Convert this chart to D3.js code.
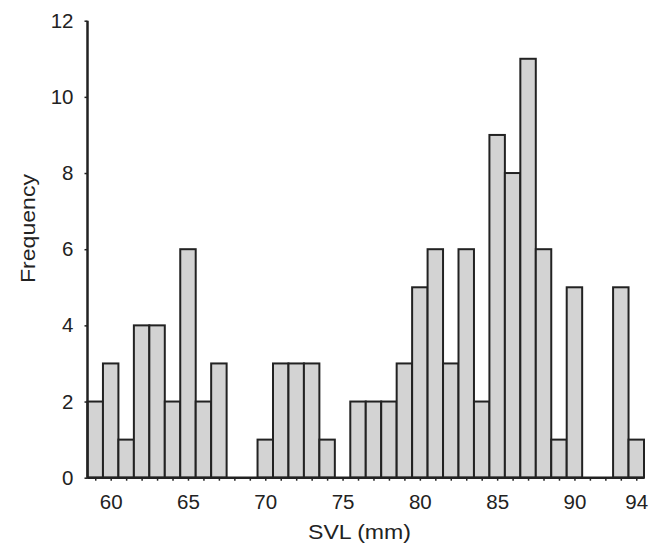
<!DOCTYPE html>
<html>
  <head>
    <meta charset="UTF-8">
    <title>SVL histogram</title>
    <script src="https://d3js.org/d3.v7.min.js"></script>
    <style>
      body { margin: 0; background: #fff; }
      text { font-family: "Liberation Sans", Arial, sans-serif; fill: #222; }
    </style>
  </head>
  <body>
    <svg width="663" height="544"></svg>
    <script>
      // SVL classes (mm), one bar per 1 mm
      var svl = [59, 60, 61, 62, 63, 64, 65, 66, 67, 68, 69, 70, 71, 72, 73, 74, 75, 76,
                 77, 78, 79, 80, 81, 82, 83, 84, 85, 86, 87, 88, 89, 90, 91, 92, 93, 94];
      var frequency = [2, 3, 1, 4, 4, 2, 6, 2, 3, 0, 0, 1, 3, 3, 3, 1, 0, 2,
                       2, 2, 3, 5, 6, 3, 6, 2, 9, 8, 11, 6, 1, 5, 0, 0, 5, 1];
      var xLabels = [60, 65, 70, 75, 80, 85, 90, 94];
      var yTicks = [0, 2, 4, 6, 8, 10, 12];

      var data = svl.map(function(d, i) { return {svl: d, n: frequency[i]}; });

      var svg = d3.select("svg");
      var margin = {top: 20.7, right: 19, bottom: 66.3, left: 87.5};
      var width = 663 - margin.left - margin.right,
          height = 544 - margin.top - margin.bottom;
      var g = svg.append("g").attr("transform", "translate(" + margin.left + "," + margin.top + ")");

      var x = d3.scaleLinear()
          .domain([d3.min(svl) - 0.5, d3.max(svl) + 0.5])
          .range([0, width]);
      var y = d3.scaleLinear()
          .domain([0, 12])
          .range([height, 0]);

      // bars
      g.selectAll("rect.bar")
        .data(data.filter(function(d) { return d.n > 0; }))
        .enter().append("rect")
          .attr("class", "bar")
          .attr("x", function(d) { return x(d.svl - 0.5); })
          .attr("width", function(d) { return x(d.svl + 0.5) - x(d.svl - 0.5); })
          .attr("y", function(d) { return y(d.n); })
          .attr("height", function(d) { return y(0) - y(d.n); })
          .attr("fill", "#d3d3d3")
          .attr("stroke", "#222")
          .attr("stroke-width", 2);

      // x axis: small tick at each class, labels at some
      var xAxis = g.append("g")
          .attr("transform", "translate(0," + height + ")")
          .call(d3.axisBottom(x)
            .tickValues(svl)
            .tickSize(3)
            .tickFormat(function(d) { return xLabels.indexOf(d) >= 0 ? d : ""; }));
      xAxis.select(".domain").attr("stroke", "#222").attr("stroke-width", 2.5)
          .attr("d", "M0,0H" + width);
      xAxis.selectAll(".tick line").attr("stroke", "#222").attr("stroke-width", 1.5);
      xAxis.selectAll(".tick text")
          .attr("font-size", 20.5)
          .attr("font-family", "Liberation Sans, Arial, sans-serif")
          .attr("fill", "#222")
          .attr("dy", null)
          .attr("y", 31);

      // y axis
      var yAxis = g.append("g")
          .call(d3.axisLeft(y).tickValues(yTicks).tickSize(3));
      yAxis.select(".domain").attr("stroke", "#222").attr("stroke-width", 2.5)
          .attr("d", "M0," + height + "V0");
      yAxis.selectAll(".tick line").attr("stroke", "#222").attr("stroke-width", 1.5);
      yAxis.selectAll(".tick text")
          .attr("font-size", 20.5)
          .attr("font-family", "Liberation Sans, Arial, sans-serif")
          .attr("fill", "#222")
          .attr("x", -14);

      // axis titles
      svg.append("text")
          .attr("x", 308)
          .attr("y", 539)
          .attr("font-size", 21)
          .attr("textLength", 103)
          .attr("lengthAdjust", "spacingAndGlyphs")
          .text("SVL (mm)");
      svg.append("text")
          .attr("transform", "translate(35,283) rotate(-90)")
          .attr("font-size", 21)
          .attr("textLength", 109)
          .attr("lengthAdjust", "spacingAndGlyphs")
          .text("Frequency");
    </script>
  </body>
</html>
